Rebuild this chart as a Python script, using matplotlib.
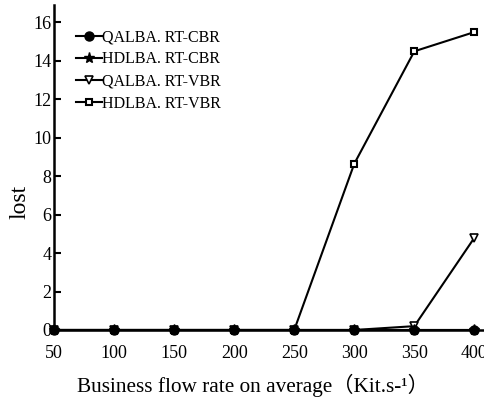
import matplotlib.pyplot as plt

plt.rcParams['font.family'] = ['Liberation Serif', 'Noto Sans CJK SC']

# data
rate = [50, 100, 150, 200, 250, 300, 350, 400]
qalba_cbr = [0, 0, 0, 0, 0, 0, 0, 0]
hdlba_cbr = [0, 0, 0, 0, 0, 0, 0, 0]
qalba_vbr = [0, 0, 0, 0, 0, 0, 0.2, 4.8]
hdlba_vbr = [0, 0, 0, 0, 0, 8.65, 14.5, 15.5]

fig = plt.figure(figsize=(4.84, 3.97), dpi=100)
ax = fig.add_axes([0.1116, 0.1688, 0.8884, 0.8182])

# open markers first so the filled ones sit on top at zero
l4, = ax.plot(rate, hdlba_vbr, color='black', lw=1.5, marker='s', ms=5,
              mfc='white', mec='black', mew=1.5, clip_on=False, zorder=3)
l3, = ax.plot(rate, qalba_vbr, color='black', lw=1.5, marker='v', ms=6,
              mfc='white', mec='black', mew=1.2, clip_on=False, zorder=3)
l2, = ax.plot(rate, hdlba_cbr, color='black', lw=1.5, marker='*', ms=8,
              mfc='black', mec='black', clip_on=False, zorder=4)
l1, = ax.plot(rate, qalba_cbr, color='black', lw=1.5, marker='o', ms=6.5,
              mfc='black', mec='black', clip_on=False, zorder=5)

ax.legend([l1, l2, l3, l4],
          ['QALBA. RT-CBR', 'HDLBA. RT-CBR', 'QALBA. RT-VBR', 'HDLBA. RT-VBR'],
          loc='upper left', bbox_to_anchor=(0.03, 0.955), frameon=False,
          fontsize=11.5, handlelength=1.6, handletextpad=0.0, labelspacing=0.38,
          borderaxespad=0.2)

ax.set_xlim(50, 408)
ax.set_ylim(0, 16.9)
ax.set_xticks(rate)
ax.set_yticks([0, 2, 4, 6, 8, 10, 12, 14, 16])
ax.tick_params(axis='y', direction='in', length=5, width=1.5, pad=2, labelsize=13)
ax.tick_params(axis='x', length=0, pad=11, labelsize=13)

for s in ['top', 'right']:
    ax.spines[s].set_visible(False)
for s in ['left', 'bottom']:
    ax.spines[s].set_linewidth(1.8)

ax.set_ylabel('lost', fontsize=17)
ax.yaxis.set_label_coords(-0.054, 0.394)
ax.set_xlabel('Business flow rate on average（Kit.s-¹）', fontsize=15.3)
ax.xaxis.set_label_coords(0.462, -0.135)

fig.savefig('out.png', dpi=100)
